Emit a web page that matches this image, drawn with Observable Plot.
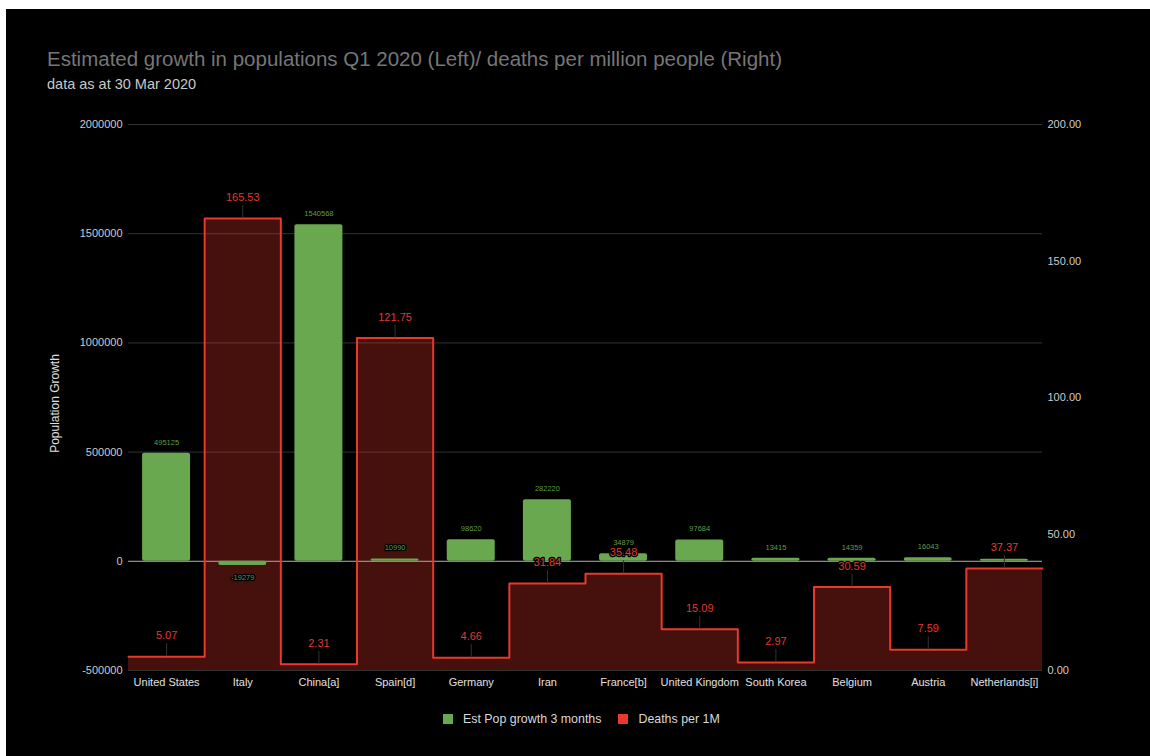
<!DOCTYPE html>
<html>
<head>
<meta charset="utf-8">
<script src="https://cdn.jsdelivr.net/npm/d3@7"></script>
<script src="https://cdn.jsdelivr.net/npm/@observablehq/plot@0.6"></script>
<style>
  html, body { margin: 0; padding: 0; background: #fff; }
  #frame {
    position: absolute; left: 6px; top: 9px; width: 1144px; height: 747px;
    background: #000; overflow: hidden;
    font-family: "Liberation Sans", Arial, sans-serif;
  }
  #title {
    position: absolute; left: 41px; top: 38px; font-size: 20.5px; line-height: 24px;
    color: #767676; white-space: nowrap;
  }
  #subtitle {
    position: absolute; left: 41px; top: 66px; font-size: 14.5px; line-height: 18px;
    color: #c8c8c8; white-space: nowrap;
  }
  #chart { position: absolute; left: 0; top: 91px; }
  #legend {
    position: absolute; left: 437px; top: 702px; display: flex; align-items: center;
    font-size: 12.4px; line-height: 16px; color: #d8d8d8; white-space: nowrap;
  }
  #legend .sw { width: 10px; height: 10px; display: inline-block; margin-right: 10px; }
  #legend .item { display: flex; align-items: center; margin-right: 17px; }
</style>
</head>
<body>
<div id="frame">
  <div id="title">Estimated growth in populations Q1 2020 (Left)/ deaths per million people (Right)</div>
  <div id="subtitle">data as at 30 Mar 2020</div>
  <div id="chart"></div>
  <div id="legend"></div>
</div>
<script>
// Countries, estimated population growth over 3 months, and deaths per million
const countries = ["United States", "Italy", "China[a]", "Spain[d]", "Germany", "Iran",
  "France[b]", "United Kingdom", "South Korea", "Belgium", "Austria", "Netherlands[i]"];
const popGrowth = [495125, -19279, 1540568, 10990, 98620, 282220, 34879, 97684, 13415, 14359, 16043, 9000];
// the Netherlands growth label sits under its deaths label, so it is not printed
const popLabelShown = [true, true, true, true, true, true, true, true, true, true, true, false];
const deathsPer1M = [5.07, 165.53, 2.31, 121.75, 4.66, 31.84, 35.48, 15.09, 2.97, 30.59, 7.59, 37.37];

// Axis ticks: left = population growth, right = deaths per 1M
const leftTicks = [-500000, 0, 500000, 1000000, 1500000, 2000000];
const rightTicks = [0, 50, 100, 150, 200];

const seriesNames = ["Est Pop growth 3 months", "Deaths per 1M"];
const GREEN = "#6aa84f";
const RED = "#e8392c";

// Map the right-axis domain onto the left-axis domain (dual axis)
const L0 = leftTicks[0], L1 = leftTicks[leftTicks.length - 1];
const R0 = rightTicks[0], R1 = rightTicks[rightTicks.length - 1];
const toLeft = (v) => L0 + (v - R0) * (L1 - L0) / (R1 - R0);
const toRight = (v) => R0 + (v - L0) * (R1 - R0) / (L1 - L0);

const rows = countries.map((c, i) => ({
  i, country: c, pop: popGrowth[i], shown: popLabelShown[i],
  deaths: deathsPer1M[i], dl: toLeft(deathsPer1M[i])
}));
// step outline: one level per category band, closed at the right edge
const steps = rows.map(d => ({x: d.i, y: d.dl}));
steps.push({x: rows.length, y: rows[rows.length - 1].dl});

// leader length of about 13px expressed in left-axis units
const leaderUnits = (L1 - L0) / 546 * 13;

const font = '"Liberation Sans", Arial, sans-serif';

const chart = Plot.plot({
  width: 1144,
  height: 600,
  marginTop: 24,
  marginBottom: 30,
  marginLeft: 122,
  marginRight: 108,
  style: {background: "#000", color: "#cccccc", fontFamily: font, fontSize: "11px"},
  x: {type: "linear", domain: [0, countries.length]},
  y: {domain: [L0, L1]},
  marks: [
    Plot.gridY(leftTicks, {stroke: "#333333", strokeOpacity: 1}),
    Plot.areaY(steps, {x: "x", y1: L0, y2: "y", curve: "step-after", fill: RED, fillOpacity: 0.3}),
    Plot.ruleY([0], {stroke: "#a0a0a0", strokeWidth: 1}),
    Plot.rectY(rows, {x1: d => d.i + 0.185, x2: d => d.i + 0.815, y1: 0, y2: "pop", fill: GREEN, rx: 2}),
    Plot.line(steps, {x: "x", y: "y", curve: "step-after", stroke: RED, strokeWidth: 2, strokeLinejoin: "round"}),
    Plot.ruleX(rows, {x: d => d.i + 0.5, y1: "dl", y2: d => d.dl + leaderUnits, stroke: "#333333", strokeWidth: 1}),
    Plot.text(rows, {filter: d => d.shown && d.pop >= 0, x: d => d.i + 0.5, y: "pop", text: d => String(d.pop),
      dy: -11, fill: "#5f9e45", fontSize: 7.5, stroke: "#000", strokeWidth: 2.5}),
    Plot.text(rows, {filter: d => d.shown && d.pop < 0, x: d => d.i + 0.5, y: "pop", text: d => String(d.pop),
      dy: 12, fill: "#5f9e45", fontSize: 7.5, stroke: "#000", strokeWidth: 2.5}),
    Plot.text(rows, {x: d => d.i + 0.5, y: "dl", text: d => d.deaths.toFixed(2),
      dy: -21, fill: "#e0392c", fontSize: 11, stroke: "#000", strokeWidth: 2.5}),
    Plot.axisY({ticks: leftTicks, tickFormat: d => String(d), tickSize: 0, tickPadding: 6,
      label: null, color: "#cccccc", fontSize: 11}),
    Plot.axisY({anchor: "right", ticks: rightTicks.map(toLeft), tickFormat: v => toRight(v).toFixed(2),
      tickSize: 0, tickPadding: 5, label: null, color: "#cccccc", fontSize: 11}),
    Plot.axisX({ticks: countries.map((c, i) => i + 0.5), tickFormat: v => countries[Math.floor(v)],
      tickSize: 0, tickPadding: 8, label: null, color: "#e0e0e0", fontSize: 11}),
    Plot.text(["Population Growth"], {frameAnchor: "left", textAnchor: "middle", rotate: -90, dx: -73, dy: 6,
      fill: "#e0e0e0", fontSize: 12})
  ]
});
document.getElementById("chart").appendChild(chart);

// Legend
const legend = document.getElementById("legend");
[[seriesNames[0], GREEN], [seriesNames[1], RED]].forEach(([name, color]) => {
  const item = document.createElement("span");
  item.className = "item";
  const sw = document.createElement("span");
  sw.className = "sw";
  sw.style.background = color;
  item.appendChild(sw);
  item.appendChild(document.createTextNode(name));
  legend.appendChild(item);
});
</script>
</body>
</html>
